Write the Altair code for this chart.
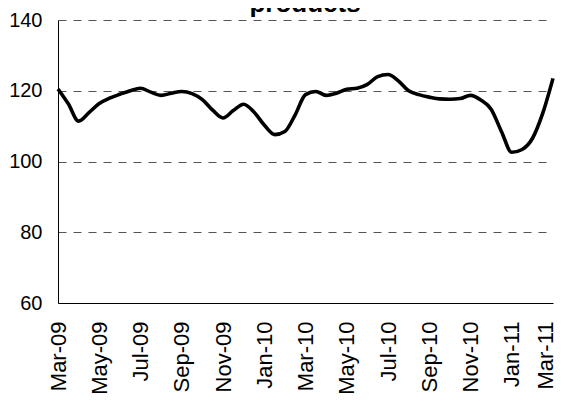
import altair as alt
import pandas as pd

# Semi-monthly index values, Mar-2009 .. Mar-2011 (month offset from Mar-09)
values = [120.5, 116.3, 111.4, 113.8, 116.4, 117.9, 119.0, 120.0, 120.7, 119.6,
          118.7, 119.3, 119.8, 119.2, 117.5, 114.5, 112.3, 114.4, 116.2, 114.0,
          110.3, 107.6, 108.5, 113.2, 118.9, 119.8, 118.7, 119.3, 120.4, 120.7,
          121.8, 124.0, 124.6, 122.8, 120.0, 118.9, 118.2, 117.7, 117.6, 117.8,
          118.7, 117.4, 114.8, 108.5, 102.6, 103.4, 106.5, 113.6, 123.5]
month_offsets = [i * 0.5 for i in range(len(values))]

tick_labels = ["Mar-09", "May-09", "Jul-09", "Sep-09", "Nov-09", "Jan-10", "Mar-10",
               "May-10", "Jul-10", "Sep-10", "Nov-10", "Jan-11", "Mar-11"]
tick_values = [i * 2 for i in range(len(tick_labels))]
y_ticks = [60, 80, 100, 120, 140]
title_text = ["products"]

df = pd.DataFrame({"m": month_offsets, "v": values})
label_arr = "[" + ",".join("'" + s + "'" for s in tick_labels) + "]"

FONT = "Liberation Sans"

line = alt.Chart(df).mark_line(color="black", strokeWidth=3.6, interpolate="monotone").encode(
    x=alt.X("m:Q", scale=alt.Scale(domain=[0, 24], nice=False, zero=False),
            axis=alt.Axis(values=tick_values, labelExpr=label_arr + "[round(datum.value/2)]",
                          labelAngle=-90, labelAlign="right", labelBaseline="middle",
                          labelFontSize=22, labelFont=FONT, labelColor="black",
                          labelOffset={"condition": {"test": "datum.value >= 24", "value": -8},
                                       "value": 0},
                          labelPadding=18, ticks=False, grid=False, title=None,
                          domainColor="black", domainWidth=1, labelOverlap=False,
                          labelBound=False, labelFlush=False)),
    y=alt.Y("v:Q", scale=alt.Scale(domain=[60, 140], nice=False, zero=False),
            axis=alt.Axis(values=y_ticks, labelFontSize=20, labelFont=FONT, labelColor="black",
                          labelPadding=16, ticks=False, grid=True, gridColor="#555555",
                          gridDash=[8, 7], gridWidth=1, title=None,
                          domainColor="black", domainWidth=1)),
)

title = alt.Chart(pd.DataFrame({"t": title_text})).mark_text(
    font=FONT, fontSize=26, fontWeight="bold", color="black", align="center", baseline="alphabetic"
).encode(text="t:N", x=alt.value(247), y=alt.value(-8))

chart = alt.layer(line, title).properties(
    width=495, height=283,
    autosize=alt.AutoSizeParams(type="none"),
    padding={"left": 50, "top": 12, "right": 3, "bottom": 96},
).configure_view(stroke=None)

chart.save("out.html", embed_options={"renderer": "svg", "actions": False})
